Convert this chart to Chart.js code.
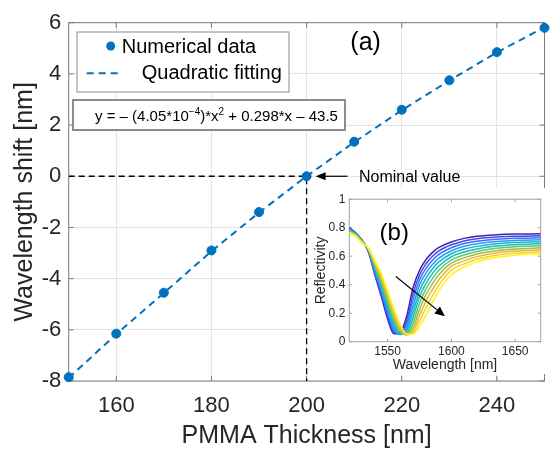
<!DOCTYPE html>
<html>
<head>
<meta charset="utf-8">
<script src="https://cdn.jsdelivr.net/npm/chart.js@4/dist/chart.umd.min.js"></script>
<style>
  html, body { margin: 0; padding: 0; background: #fff; }
  #wrap { position: relative; width: 550px; height: 449px; }
  #main { position: absolute; left: 0; top: 0; width: 550px; height: 449px; }
  #inset { position: absolute; left: 312px; top: 188px; width: 234px; height: 186px; }
</style>
</head>
<body>
<div id="wrap">
  <canvas id="main" width="550" height="449"></canvas>
  <canvas id="inset" width="234" height="186"></canvas>
</div>
<script>
// Datos del grafico principal (a)
const thickness = [150, 160, 170, 180, 190, 200, 210, 220, 230, 240, 250]
const shift = [-7.85, -6.15, -4.55, -2.9, -1.4, 0, 1.35, 2.6, 3.75, 4.85, 5.8]
const fitShift = [-7.88, -6.17, -4.56, -2.93, -1.42, 0, 1.33, 2.58, 3.74, 4.84, 5.82]
const nominalX = [150, 200, 200]
const nominalY = [0, 0, -8]
const xTicks = [160, 180, 200, 220, 240]
const yTicks = [-8, -6, -4, -2, 0, 2, 4, 6]

// Datos del inset (b): reflectividad por espesor
const wavelength = [1520, 1525, 1530, 1535, 1540, 1545, 1550, 1555, 1560, 1565, 1570, 1575, 1580, 1585, 1590, 1600, 1610, 1620, 1635, 1650, 1670]
const r150 = [0.800, 0.765, 0.712, 0.630, 0.470, 0.320, 0.160, 0.055, 0.065, 0.180, 0.380, 0.500, 0.575, 0.625, 0.660, 0.700, 0.725, 0.740, 0.750, 0.755, 0.757]
const r160 = [0.797, 0.763, 0.711, 0.633, 0.480, 0.336, 0.180, 0.065, 0.055, 0.150, 0.338, 0.468, 0.545, 0.598, 0.636, 0.680, 0.707, 0.723, 0.735, 0.740, 0.743]
const r170 = [0.793, 0.761, 0.710, 0.636, 0.490, 0.352, 0.200, 0.080, 0.050, 0.122, 0.295, 0.433, 0.513, 0.570, 0.611, 0.659, 0.689, 0.705, 0.719, 0.726, 0.729]
const r180 = [0.789, 0.758, 0.709, 0.639, 0.500, 0.368, 0.220, 0.095, 0.050, 0.098, 0.252, 0.396, 0.480, 0.540, 0.585, 0.638, 0.670, 0.687, 0.703, 0.711, 0.715]
const r190 = [0.785, 0.756, 0.707, 0.642, 0.510, 0.384, 0.240, 0.112, 0.052, 0.078, 0.210, 0.356, 0.445, 0.509, 0.558, 0.617, 0.650, 0.669, 0.687, 0.696, 0.701]
const r200 = [0.781, 0.753, 0.705, 0.645, 0.520, 0.400, 0.260, 0.130, 0.058, 0.063, 0.170, 0.314, 0.408, 0.476, 0.530, 0.596, 0.630, 0.651, 0.671, 0.681, 0.687]
const r210 = [0.777, 0.751, 0.703, 0.648, 0.530, 0.416, 0.280, 0.150, 0.066, 0.053, 0.133, 0.270, 0.369, 0.441, 0.500, 0.574, 0.609, 0.633, 0.655, 0.666, 0.673]
const r220 = [0.773, 0.748, 0.701, 0.650, 0.540, 0.432, 0.300, 0.170, 0.077, 0.048, 0.101, 0.225, 0.328, 0.404, 0.468, 0.552, 0.588, 0.615, 0.639, 0.651, 0.659]
const r230 = [0.770, 0.745, 0.699, 0.652, 0.550, 0.448, 0.320, 0.190, 0.090, 0.048, 0.076, 0.182, 0.284, 0.364, 0.433, 0.529, 0.567, 0.597, 0.623, 0.636, 0.645]
const r240 = [0.767, 0.742, 0.697, 0.654, 0.560, 0.464, 0.340, 0.210, 0.105, 0.050, 0.060, 0.142, 0.236, 0.320, 0.395, 0.502, 0.545, 0.579, 0.607, 0.621, 0.631]
const r250 = [0.765, 0.740, 0.695, 0.656, 0.570, 0.480, 0.360, 0.230, 0.120, 0.055, 0.052, 0.105, 0.185, 0.272, 0.355, 0.470, 0.523, 0.560, 0.592, 0.607, 0.618]
const insetXTicks = [1550, 1600, 1650]
const insetYTicks = [0, 0.2, 0.4, 0.6, 0.8, 1]

const curves = [r150, r160, r170, r180, r190, r200, r210, r220, r230, r240, r250]
// colores tipo parula (azul -> amarillo)
const parula = ['#3e26a8', '#4747eb', '#3e6ffd', '#279deb', '#13b5d4', '#1ebfb0', '#5ac97e', '#a4be3c', '#e2b93a', '#fcce30', '#f9f714']

const FONT = "'Liberation Sans', Arial, sans-serif"
const TXT = '#262626'
const BLUE = '#0072bd'
Chart.defaults.font.family = FONT

const pts = (xs, ys) => xs.map((x, i) => ({ x, y: ys[i] }))
const plain = v => String(v)

// flecha simple con cabeza rellena
function arrow(ctx, x0, y0, x1, y1, len, half) {
    const ang = Math.atan2(y1 - y0, x1 - x0)
    ctx.beginPath()
    ctx.moveTo(x0, y0)
    ctx.lineTo(x1 - Math.cos(ang) * len * 0.8, y1 - Math.sin(ang) * len * 0.8)
    ctx.stroke()
    ctx.beginPath()
    ctx.moveTo(x1, y1)
    ctx.lineTo(x1 - Math.cos(ang) * len - Math.sin(ang) * half, y1 - Math.sin(ang) * len + Math.cos(ang) * half)
    ctx.lineTo(x1 - Math.cos(ang) * len + Math.sin(ang) * half, y1 - Math.sin(ang) * len - Math.cos(ang) * half)
    ctx.closePath()
    ctx.fill()
}

// caja estilo MATLAB con ticks hacia adentro
function boxTicks(len, color) {
    return {
        id: 'boxTicks',
        beforeDatasetsDraw(chart) {
            const { ctx, chartArea: a, scales: { x, y } } = chart
            ctx.save()
            ctx.strokeStyle = color
            ctx.lineWidth = 1
            ctx.beginPath()
            x.ticks.forEach(t => {
                const px = x.getPixelForValue(t.value)
                ctx.moveTo(px, a.bottom); ctx.lineTo(px, a.bottom - len)
                ctx.moveTo(px, a.top); ctx.lineTo(px, a.top + len)
            })
            y.ticks.forEach(t => {
                const py = y.getPixelForValue(t.value)
                ctx.moveTo(a.left, py); ctx.lineTo(a.left + len, py)
                ctx.moveTo(a.right, py); ctx.lineTo(a.right - len, py)
            })
            ctx.stroke()
            ctx.strokeRect(a.left, a.top, a.right - a.left, a.bottom - a.top)
            ctx.restore()
        }
    }
}

// leyenda, ecuacion y anotaciones del grafico (a)
const mainNotes = {
    id: 'mainNotes',
    afterDatasetsDraw(chart) {
        const { ctx, chartArea: a, scales: { x, y } } = chart
        const ds = chart.data.datasets
        ctx.save()

        // leyenda
        const lx = a.left + 8.3, ly = a.top + 9.3
        ctx.fillStyle = '#fff'
        ctx.fillRect(lx, ly, 212, 60)
        ctx.strokeStyle = '#8c8c8c'
        ctx.lineWidth = 1
        ctx.strokeRect(lx, ly, 212, 60)
        ctx.fillStyle = BLUE
        ctx.beginPath(); ctx.arc(lx + 33.7, ly + 14, 4.5, 0, Math.PI * 2); ctx.fill()
        ctx.strokeStyle = BLUE; ctx.lineWidth = 2; ctx.setLineDash([7, 5])
        ctx.beginPath(); ctx.moveTo(lx + 9.7, ly + 41.3); ctx.lineTo(lx + 41.3, ly + 41.3); ctx.stroke()
        ctx.setLineDash([])
        ctx.fillStyle = '#000'
        ctx.font = '20px ' + FONT
        ctx.textBaseline = 'middle'
        ctx.fillText(ds[0].label, lx + 44.7, ly + 15)
        ctx.fillText(ds[1].label, lx + 64.7, ly + 41.5)

        // caja de la ecuacion
        const ex = a.left + 4.3, ey = a.top + 77.3
        ctx.fillStyle = '#fff'
        ctx.fillRect(ex, ey, 272, 30)
        ctx.strokeStyle = '#8c8c8c'
        ctx.strokeRect(ex, ey, 272, 30)
        ctx.fillStyle = '#000'
        ctx.textBaseline = 'alphabetic'
        let tx = ex + 22, ty = ey + 21
        const parts = [['y = \u2013 (4.05*10', 0], ['\u22124', 1], [')*x', 0], ['2', 1], [' + 0.298*x \u2013 43.5', 0]]
        parts.forEach(([s, sup]) => {
            ctx.font = (sup ? '10px ' : '15px ') + FONT
            ctx.fillText(s, tx, sup ? ty - 6 : ty)
            tx += ctx.measureText(s).width
        })

        // (a)
        ctx.font = '25px ' + FONT
        ctx.textAlign = 'center'
        ctx.fillText('(a)', x.getPixelForValue(212.4), y.getPixelForValue(4.93))

        // valor nominal
        ctx.textAlign = 'left'
        ctx.font = '16px ' + FONT
        ctx.fillText('Nominal value', x.getPixelForValue(211), y.getPixelForValue(0) + 6)
        ctx.strokeStyle = '#000'; ctx.lineWidth = 1.2
        arrow(ctx, x.getPixelForValue(208.6), y.getPixelForValue(0), x.getPixelForValue(201.9), y.getPixelForValue(0), 10, 4)
        ctx.restore()
    }
}

const insetNotes = {
    id: 'insetNotes',
    beforeDraw(chart) {
        const { ctx, width, height } = chart
        ctx.save()
        ctx.fillStyle = '#fff'
        ctx.fillRect(0, 0, width, height)
        ctx.restore()
    },
    afterDatasetsDraw(chart) {
        const { ctx, scales: { x, y } } = chart
        ctx.save()
        ctx.fillStyle = '#000'
        ctx.strokeStyle = '#000'
        ctx.lineWidth = 1.2
        arrow(ctx, x.getPixelForValue(1556.5), y.getPixelForValue(0.458), x.getPixelForValue(1594.9), y.getPixelForValue(0.179), 10, 4.5)
        ctx.font = '24px ' + FONT
        ctx.textAlign = 'center'
        ctx.textBaseline = 'middle'
        ctx.fillText('(b)', x.getPixelForValue(1555.2), y.getPixelForValue(0.758))
        ctx.restore()
    }
}

// Grafico principal
new Chart(document.getElementById('main'), {
    type: 'line',
    data: {
        datasets: [
            { label: 'Numerical data', data: pts(thickness, shift), showLine: false, pointRadius: 4.5, pointBackgroundColor: BLUE, pointBorderColor: BLUE, borderColor: BLUE, backgroundColor: BLUE, clip: false },
            { label: 'Quadratic fitting', data: pts(thickness, fitShift), borderColor: BLUE, borderWidth: 2, borderDash: [7, 5], pointRadius: 0, tension: 0, clip: false },
            { label: 'Nominal', data: pts(nominalX, nominalY), borderColor: '#000', borderWidth: 1.3, borderDash: [6, 4], pointRadius: 0, tension: 0 }
        ]
    },
    options: {
        responsive: false,
        animation: false,
        devicePixelRatio: 1,
        layout: { padding: { left: 0, right: 1.3, top: 22.7, bottom: 0 } },
        plugins: { legend: { display: false }, tooltip: { enabled: false } },
        scales: {
            x: {
                type: 'linear', min: 150, max: 250,
                afterBuildTicks: s => { s.ticks = xTicks.map(v => ({ value: v })) },
                afterFit: s => { s.height = 68 },
                grid: { color: '#e4e4e4', drawTicks: false },
                border: { display: false },
                ticks: { font: { size: 22 }, color: TXT, padding: 11.5, maxRotation: 0, autoSkip: false, callback: plain },
                title: { display: true, text: 'PMMA Thickness [nm]', color: TXT, font: { size: 25, lineHeight: 1 }, padding: { top: 0, bottom: 0.5 } }
            },
            y: {
                type: 'linear', min: -8, max: 6,
                afterBuildTicks: s => { s.ticks = yTicks.map(v => ({ value: v })) },
                afterFit: s => { s.width = 68.7 },
                grid: { color: '#e4e4e4', drawTicks: false },
                border: { display: false },
                ticks: { font: { size: 22 }, color: TXT, padding: 7.5, autoSkip: false, callback: plain },
                title: { display: true, text: 'Wavelength shift [nm]', color: TXT, font: { size: 25, lineHeight: 1 }, padding: { top: 12.5, bottom: 0 } }
            }
        }
    },
    plugins: [boxTicks(5, '#7a7a7a'), mainNotes]
})

// Inset (b)
new Chart(document.getElementById('inset'), {
    type: 'line',
    data: {
        datasets: curves.map((c, i) => ({
            label: String(thickness[i]),
            data: pts(wavelength, c),
            borderColor: parula[i],
            borderWidth: 1.5,
            pointRadius: 0,
            cubicInterpolationMode: 'monotone',
            order: curves.length - i
        }))
    },
    options: {
        responsive: false,
        animation: false,
        devicePixelRatio: 1,
        layout: { padding: { left: 0, right: 5.3, top: 10.3, bottom: 0 } },
        plugins: { legend: { display: false }, tooltip: { enabled: false } },
        scales: {
            x: {
                type: 'linear', min: 1520, max: 1670,
                afterBuildTicks: s => { s.ticks = insetXTicks.map(v => ({ value: v })) },
                afterFit: s => { s.height = 32.3 },
                grid: { display: false, drawTicks: false },
                border: { display: false },
                ticks: { font: { size: 12 }, color: TXT, padding: 3, maxRotation: 0, autoSkip: false, callback: plain },
                title: { display: true, text: 'Wavelength [nm]', color: TXT, font: { size: 14, lineHeight: 1 }, padding: { top: 0, bottom: 2 } }
            },
            y: {
                type: 'linear', min: 0, max: 1,
                afterBuildTicks: s => { s.ticks = insetYTicks.map(v => ({ value: v })) },
                afterFit: s => { s.width = 37.3 },
                grid: { display: false, drawTicks: false },
                border: { display: false },
                ticks: { font: { size: 12 }, color: TXT, padding: 4, autoSkip: false, callback: plain },
                title: { display: true, text: 'Reflectivity', color: TXT, font: { size: 14, lineHeight: 1 }, padding: { top: 2, bottom: 0 } }
            }
        }
    },
    plugins: [insetNotes, boxTicks(3, '#a0a0a0')]
})
</script>
</body>
</html>
